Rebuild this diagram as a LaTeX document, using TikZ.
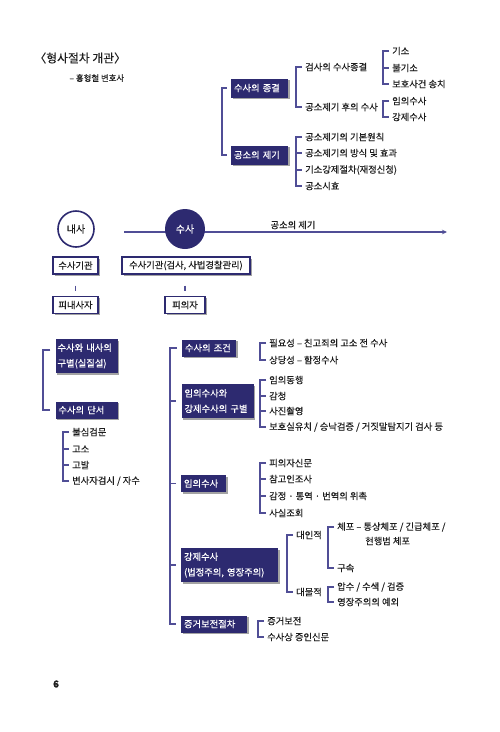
\documentclass[tikz,border=0pt]{standalone}
\usepackage{fontspec}
\setmainfont{Noto Sans CJK KR}[FakeBold=0.35]
\usetikzlibrary{shadows,arrows.meta,calc}
\definecolor{navy}{RGB}{45,42,112}
\definecolor{lin}{RGB}{80,78,150}
\definecolor{txt}{RGB}{30,30,30}
\begin{document}
\begin{tikzpicture}[x=1pt,y=-1pt,
  every node/.style={font=\fontsize{9.3}{10}\selectfont, text=txt},
  shd/.style={drop shadow={shadow xshift=1.8pt, shadow yshift=-1.8pt, fill=black!40, opacity=0.9}},
  dbox/.style={shd, fill=navy, text=white, inner xsep=3pt, inner ysep=0pt, align=left, minimum height=17pt},
  two/.style={font=\fontsize{9.3}{15.5}\selectfont, minimum height=34pt},
  wbox/.style={shd, draw=navy, line width=1.1pt, fill=white, inner xsep=3pt, inner ysep=0pt, minimum height=17pt},
  item/.style={anchor=west, inner xsep=3pt, inner ysep=1pt},
  brk/.style={draw=lin, line width=1.2pt},
]
\useasboundingbox (0,0) rectangle (500,732);

% title
\node[font=\fontsize{11.8}{13}\selectfont, anchor=west] (title) at (31,58) {〈형사절차 개관〉};
\node[font=\fontsize{8.4}{10}\selectfont, anchor=west] (author) at (66,78) {– 홍형철 변호사};

% top right tree
\node[dbox, text width=51pt, minimum height=19pt] (skj) at (259.5,88) {수사의 종결};
\node[dbox, text width=51pt, minimum height=19pt] (gsj) at (259.5,155) {공소의 제기};
\coordinate (bT) at (222,0);
\draw[brk] ([xshift=-4pt]skj.west) -- (bT |- skj.west) -- (bT |- gsj.west) -- ([xshift=-4pt]gsj.west);

\coordinate (bA) at (296,0);
\node[item] (a1) at (302,67) {검사의 수사종결};
\node[item] (a2) at (302,107) {공소제기 후의 수사};
\draw[brk] (a1.west) -- (bA |- a1.west) -- (bA |- a2.west) -- (a2.west);

\coordinate (bA1) at (383,0);
\node[item] (a11) at (389,51) {기소};
\node[item] (a12) at (389,68) {불기소};
\node[item] (a13) at (389,84) {보호사건 송치};
\draw[brk] (a11.west) -- (bA1 |- a11.west) -- (bA1 |- a13.west) -- (a13.west);
\draw[brk] (bA1 |- a12.west) -- (a12.west);

\node[item] (a21) at (389,101) {임의수사};
\node[item] (a22) at (389,117) {강제수사};
\draw[brk] (a21.west) -- (bA1 |- a21.west) -- (bA1 |- a22.west) -- (a22.west);

\node[item] (b1) at (302,137) {공소제기의 기본원칙};
\node[item] (b2) at (302,153) {공소제기의 방식 및 효과};
\node[item] (b3) at (302,170) {기소강제절차(재정신청)};
\node[item] (b4) at (302,186) {공소시효};
\draw[brk] (b1.west) -- (bA |- b1.west) -- (bA |- b4.west) -- (b4.west);
\foreach \n in {b2,b3} \draw[brk] (bA |- \n.west) -- (\n.west);

% timeline
\coordinate (as) at (124,232);
\coordinate (ae) at (447,232);
\draw[draw=lin, line width=1.2pt, -{Stealth[length=5pt,width=4.5pt]}] (as) -- (ae);
\node (gsl) at (293,225) {공소의 제기};
\node[circle, draw=navy, line width=1.6pt, fill=white, minimum size=36pt, inner sep=0pt, font=\fontsize{10}{10}\selectfont] (naesa) at (76,229) {내사};
\node[circle, fill=navy, text=white, minimum size=40pt, inner sep=0pt, font=\fontsize{10}{10}\selectfont] (susa) at (185,229) {수사};

\node[wbox, minimum width=45pt] (sg1) at (75.5,265.5) {수사기관};
\node[wbox, minimum width=128pt] (sg2) at (186,265.5) {수사기관(검사, 사법경찰관리)};
\node[wbox, minimum width=45pt] (pn) at (75.5,305) {피내사자};
\node[wbox, minimum width=40pt] (pu) at (185,305) {피의자};
\draw[brk] ($(sg1.south)+(0,11)$) -- ($(pn.north)+(0,-5)$);
\draw[brk] ($(pu.north |- sg2.south)+(0,11)$) -- ($(pu.north)+(0,-5)$);

% left column
\node[dbox, two, text width=58pt, inner xsep=2pt] (l1) at (86.5,356) {수사와 내사의\\구별(실질설)};
\node[dbox, text width=56pt, inner xsep=3pt] (l2) at (86.5,410) {수사의 단서};
\coordinate (bL) at (43,0);
\coordinate (l1t) at ([yshift=6pt]l1.west);
\draw[brk] ([xshift=-5pt]l1t) -- (bL |- l1t) -- (bL |- l2.west) -- ([xshift=-5pt]l2.west);

\coordinate (bL2) at (63,0);
\node[item] (c1) at (69,432) {불심검문};
\node[item] (c2) at (69,449) {고소};
\node[item] (c3) at (69,465) {고발};
\node[item] (c4) at (69,481) {변사자검시 / 자수};
\draw[brk] (c1.west) -- (bL2 |- c1.west) -- (bL2 |- c4.west) -- (c4.west);
\foreach \n in {c2,c3} \draw[brk] (bL2 |- \n.west) -- (\n.west);

% right column
\node[dbox, text width=48pt] (r1) at (209,348) {수사의 조건};
\node[dbox, two, text width=66pt] (r2) at (217.5,401) {임의수사와\\강제수사의 구별};
\node[dbox, text width=39pt] (r3) at (203.5,483.5) {임의수사};
\node[dbox, two, text width=91pt] (r4) at (229.5,565) {강제수사\\(법정주의, 영장주의)};
\node[dbox, text width=60pt] (r5) at (214,624) {증거보전절차};
\coordinate (bR) at (170,0);
\draw[brk] ([xshift=-5pt]r1.west) -- (bR |- r1.west) -- (bR |- r5.west) -- ([xshift=-5pt]r5.west);
\foreach \n in {r2,r3,r4} \draw[brk] (bR |- \n.west) -- ([xshift=-5pt]\n.west);

\coordinate (bS) at (260,0);
\node[item] (d1) at (266,343) {필요성 – 친고죄의 고소 전 수사};
\node[item] (d2) at (266,360) {상당성 – 함정수사};
\draw[brk] (d1.west) -- (bS |- d1.west) -- (bS |- d2.west) -- (d2.west);

\node[item] (e1) at (266,380) {임의동행};
\node[item] (e2) at (266,396) {감청};
\node[item] (e3) at (266,411) {사진촬영};
\node[item] (e4) at (266,427) {보호실유치 / 승낙검증 / 거짓말탐지기 검사 등};
\draw[brk] (e1.west) -- (bS |- e1.west) -- (bS |- e4.west) -- (e4.west);
\foreach \n in {e2,e3} \draw[brk] (bS |- \n.west) -- (\n.west);

\node[item] (f1) at (266,463) {피의자신문};
\node[item] (f2) at (266,479) {참고인조사};
\node[item] (f3) at (266,496) {감정 · 통역 · 번역의 위촉};
\node[item] (f4) at (266,513) {사실조회};
\draw[brk] (f1.west) -- (bS |- f1.west) -- (bS |- f4.west) -- (f4.west);
\foreach \n in {f2,f3} \draw[brk] (bS |- \n.west) -- (\n.west);

\coordinate (bG) at (287,0);
\node[item] (g1) at (293,535) {대인적};
\node[item] (g2) at (293,592) {대물적};
\draw[brk] (g1.west) -- (bG |- g1.west) -- (bG |- g2.west) -- (g2.west);

\coordinate (bH) at (328,0);
\node[item] (h1) at (334,527) {체포 – 통상체포 / 긴급체포 /};
\node[item] (h1b) at (362,541) {현행범 체포};
\node[item] (h2) at (334,568) {구속};
\draw[brk] (h1.west) -- (bH |- h1.west) -- (bH |- h2.west) -- (h2.west);
\node[item] (k1) at (334,587) {압수 / 수색 / 검증};
\node[item] (k2) at (334,602) {영장주의의 예외};
\draw[brk] (k1.west) -- (bH |- k1.west) -- (bH |- k2.west) -- (k2.west);

\coordinate (bJ) at (258,0);
\node[item] (j1) at (264,621) {증거보전};
\node[item] (j2) at (264,637) {수사상 증인신문};
\draw[brk] (j1.west) -- (bJ |- j1.west) -- (bJ |- j2.west) -- (j2.west);

\node[font=\bfseries\fontsize{9.5}{10}\selectfont] (pg) at (56,684) {6};
\end{tikzpicture}
\end{document}
